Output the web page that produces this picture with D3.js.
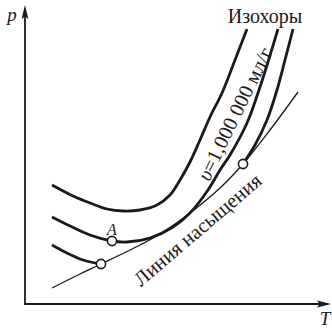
<!DOCTYPE html>
<html>
<head>
<meta charset="utf-8">
<script src="https://cdn.jsdelivr.net/npm/d3@7/dist/d3.min.js"></script>
<style>
  html, body { margin: 0; padding: 0; background: #fff; }
  svg { display: block; }
  text { font-family: "Liberation Serif", "DejaVu Serif", serif; fill: #1a1a1a; }
</style>
</head>
<body>
<svg id="chart" width="332" height="329"></svg>
<script>
// Isochores and saturation line on the p–T plane (qualitative units).
const isochoreHigh = [[27,119],[48,108],[65,101],[82,95],[98,93],[115,94],[132,99],[145,109],[155,124],[165,142],[175,164],[185,187],[197,211],[210,244],[222,275]];
const isochoreMid = [[27,87],[45,78],[65,69],[87,63],[102,62],[125,66],[148,77],[165,91],[183,114],[195,134],[205,149],[222,181],[233,211],[243,242],[253,275]];
const isochoreLowLeft = [[27,59],[40,52],[58,44],[76,40]];
const isochoreLowRight = [[218,140],[230,159],[242,184],[252,214],[260,244],[268,275]];
const saturation = [[27,16],[55,30],[76,40],[115,59],[135,70],[165,91],[195,116],[218,140],[245,174],[273,212]];
const markers = [[87,63],[76,40],[218,140]];
const labels = { p: "p", T: "T", isochores: "Изохоры", volume: "=1,000 000 мл/г", saturation: "Линия насыщения", point: "A" };

const svg = d3.select("#chart");
const x = d3.scaleLinear().domain([0, 300]).range([25, 325]);
const y = d3.scaleLinear().domain([0, 300]).range([304, 4]);

const line = d3.line()
  .x(d => x(d[0]))
  .y(d => y(d[1]))
  .curve(d3.curveCatmullRom.alpha(0.5));

const ink = "#1a1a1a";

// axes with arrowheads
svg.append("line").attr("x1", x(0)).attr("y1", y(0)).attr("x2", x(0)).attr("y2", 14)
  .attr("stroke", ink).attr("stroke-width", 1.8);
svg.append("line").attr("x1", x(0) - 0.9).attr("y1", y(0)).attr("x2", 322).attr("y2", y(0))
  .attr("stroke", ink).attr("stroke-width", 1.8);
const ax = x(0), ay = y(0);
svg.append("path")
  .attr("d", `M${ax},5 L${ax + 3.4},19 L${ax},16.5 L${ax - 3.4},19 Z`)
  .attr("fill", ink);
svg.append("path")
  .attr("d", `M331,${ay} L317,${ay - 3.4} L319.5,${ay} L317,${ay + 3.4} Z`)
  .attr("fill", ink);

// saturation line (thin)
svg.append("path").attr("d", line(saturation))
  .attr("fill", "none").attr("stroke", ink).attr("stroke-width", 1.3);

// isochores (thick)
[isochoreHigh, isochoreMid, isochoreLowLeft, isochoreLowRight].forEach(c => {
  svg.append("path").attr("d", line(c))
    .attr("fill", "none").attr("stroke", ink).attr("stroke-width", 2.8)
    .attr("stroke-linecap", "butt");
});

// state points
svg.selectAll("circle.pt").data(markers).join("circle")
  .attr("class", "pt")
  .attr("cx", d => x(d[0])).attr("cy", d => y(d[1])).attr("r", 4.6)
  .attr("fill", "#fff").attr("stroke", ink).attr("stroke-width", 1.6);

// labels
svg.append("text").attr("x", 12).attr("y", 21).attr("text-anchor", "middle")
  .attr("font-size", 19).attr("font-style", "italic").text(labels.p);
svg.append("text").attr("x", 325).attr("y", 325).attr("text-anchor", "middle")
  .attr("font-size", 19).attr("font-style", "italic").text(labels.T);
svg.append("text").attr("x", 265).attr("y", 23).attr("text-anchor", "middle")
  .attr("font-size", 20).text(labels.isochores);
svg.append("text").attr("x", x(87)).attr("y", 234.5).attr("text-anchor", "middle")
  .attr("font-size", 16).attr("font-style", "italic").text(labels.point);

const vol = svg.append("text").attr("text-anchor", "middle").attr("font-size", 20.5)
  .attr("transform", "translate(241,117) rotate(-64)");
vol.append("tspan").attr("font-style", "italic").text("υ");
vol.append("tspan").text(labels.volume);

svg.append("text").attr("text-anchor", "middle").attr("font-size", 20.5)
  .attr("transform", "translate(202,235) rotate(-40.5)")
  .text(labels.saturation);
</script>
</body>
</html>
